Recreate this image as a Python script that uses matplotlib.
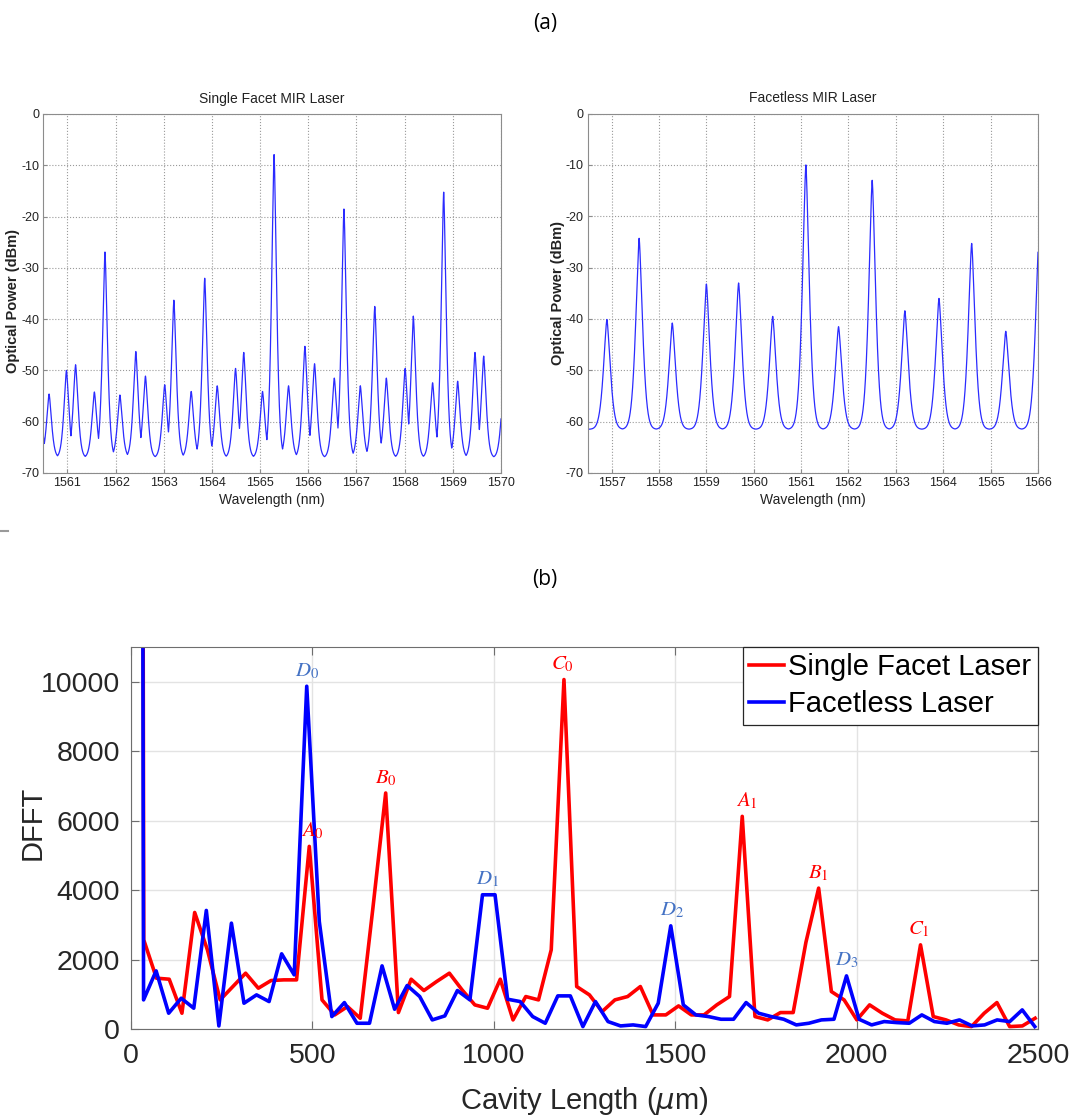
import os
import numpy as np
import matplotlib
matplotlib.use("Agg")
import matplotlib.pyplot as plt
from matplotlib import font_manager
from matplotlib.font_manager import FontProperties
from matplotlib.lines import Line2D

# ---------------- (a) optical spectra: peaks ----------------
single_peak_nm = [1560.42, 1560.62, 1560.98, 1561.17, 1561.56, 1561.78, 1562.09,
                  1562.42, 1562.62, 1563.02, 1563.21, 1563.57, 1563.85, 1564.11,
                  1564.49, 1564.66, 1565.05, 1565.29, 1565.59, 1565.93, 1566.13,
                  1566.54, 1566.74, 1567.08, 1567.38, 1567.62, 1568.01, 1568.18,
                  1568.58, 1568.81, 1569.10, 1569.46, 1569.64, 1570.05]
single_peak_dbm = [-54.0, -54.6, -50.0, -48.9, -54.2, -26.9, -54.8,
                   -46.3, -51.1, -52.8, -36.3, -54.1, -32.0, -53.0,
                   -49.6, -46.5, -54.1, -7.9, -53.0, -45.3, -48.7,
                   -51.5, -18.5, -53.0, -37.5, -51.5, -49.6, -39.4,
                   -52.4, -15.2, -52.1, -46.5, -47.2, -54.0]
single_floor_dbm = -67.0

facetless_peak_nm = [1556.90, 1557.58, 1558.28, 1559.00, 1559.68, 1560.40, 1561.10,
                     1561.79, 1562.50, 1563.19, 1563.91, 1564.60, 1565.32, 1566.02]
facetless_peak_dbm = [-40.1, -24.3, -40.8, -33.2, -33.0, -39.5, -10.0,
                      -41.5, -13.0, -38.4, -36.0, -25.3, -42.4, -24.0]
facetless_floor_dbm = -61.5

single_xticks = [1561, 1562, 1563, 1564, 1565, 1566, 1567, 1568, 1569, 1570]
facetless_xticks = [1557, 1558, 1559, 1560, 1561, 1562, 1563, 1564, 1565, 1566]
power_ticks = [0, -10, -20, -30, -40, -50, -60, -70]

# ---------------- (b) DFFT, one value per bin (bin 0 = off-scale DC term) ----------------
single_bin_um = 35.1
facetless_bin_um = 34.6
dfft_single = [2.0e5, 2573, 1469, 1440, 461, 3360, 2285, 845, 1229, 1613,
               1181, 1402, 1421, 1421, 5261, 845, 413, 653, 317, 3500,
               6797, 480, 1440, 1114, 1373, 1613, 1133, 701, 605, 1440,
               269, 941, 845, 2285, 10061, 1229, 989, 509, 845, 941,
               1229, 413, 413, 672, 413, 413, 701, 941, 6125, 365,
               269, 480, 480, 2500, 4061, 1085, 845, 269, 701, 461,
               269, 240, 2429, 365, 269, 125, 77, 461, 768, 77,
               96, 317]
dfft_facetless = [2.0e5, 845, 1680, 461, 893, 605, 3418, 96, 3053, 749,
                  989, 797, 2170, 1565, 9869, 3100, 365, 768, 173, 173,
                  1824, 576, 1258, 941, 269, 384, 1114, 845, 3869, 3869,
                  864, 797, 365, 173, 960, 960, 77, 797, 221, 96,
                  125, 77, 749, 2976, 701, 413, 365, 288, 288, 768,
                  461, 365, 288, 125, 173, 269, 288, 1536, 288, 125,
                  221, 192, 173, 413, 221, 173, 269, 96, 125, 269,
                  221, 557, 77]

# (label, series, bin, x shift in points)
peak_labels = [("D_0", "facetless", 14, 0), ("A_0", "single", 14, 2),
               ("B_0", "single", 20, 0), ("C_0", "single", 34, -1),
               ("D_1", "facetless", 28, 4), ("D_2", "facetless", 43, 1),
               ("A_1", "single", 48, 3), ("B_1", "single", 54, 0),
               ("D_3", "facetless", 57, 0), ("C_1", "single", 62, -1)]

plt.rcParams['axes.unicode_minus'] = False
names = {f.name for f in font_manager.fontManager.ttflist}
sans = 'Liberation Sans' if 'Liberation Sans' in names else 'DejaVu Sans'
plt.rcParams['font.family'] = sans


def font_file(prefix):
    for f in font_manager.fontManager.ttflist:
        if os.path.basename(f.fname).startswith(prefix):
            return f.fname
    return None


# the OSA screenshots use a squeezed font: take Liberation Sans Narrow if it is there
narrow_reg = font_file('LiberationSansNarrow-Regular')
narrow_bold = font_file('LiberationSansNarrow-Bold.')
if narrow_reg:
    small = lambda size: FontProperties(fname=narrow_reg, size=size)
    small_bold = lambda size: FontProperties(fname=narrow_bold or narrow_reg, size=size)
    tick_size, text_size, ylab_size = 11, 11, 12
else:
    small = lambda size: FontProperties(family=sans, size=size)
    small_bold = lambda size: FontProperties(family=sans, weight='bold', size=size)
    tick_size, text_size, ylab_size = 9, 10, 10.5

fig = plt.figure(figsize=(10.8, 11.15), dpi=100)


def spectrum(ax, lo, hi, peaks_nm, peaks_dbm, floor, width, xticks, title, ylab_x, ylab_y):
    wl = np.linspace(lo, hi, 6000)
    p = np.full_like(wl, floor)
    for c, h in zip(peaks_nm, peaks_dbm):
        p = np.maximum(p, floor + (h - floor) * np.exp(-(np.abs(wl - c) / width) ** 1.5))
    ax.plot(wl, p, color='#2b2bff', lw=0.9)
    ax.set_xlim(lo, hi)
    ax.set_ylim(-70, 0)
    ax.set_xticks(xticks)
    ax.set_yticks(power_ticks)
    ax.grid(True, ls=':', color='#9a9a9a', lw=0.8)
    for s in ax.spines.values():
        s.set_color('#8c8c8c')
    ax.tick_params(direction='in', length=3, color='#8c8c8c', pad=3, labelcolor='#222222')
    for t in ax.get_xticklabels() + ax.get_yticklabels():
        t.set_fontproperties(small(tick_size))
    ax.set_title(title, fontproperties=small(text_size), color='#222222', pad=8)
    ax.set_xlabel('Wavelength (nm)', fontproperties=small(text_size), color='#222222')
    ax.xaxis.set_label_coords(0.5, -0.055)
    ax.set_ylabel('Optical Power (dBm)', fontproperties=small_bold(ylab_size), color='#222222')
    ax.yaxis.set_label_coords(ylab_x, ylab_y)


ax1 = fig.add_axes([0.0401, 0.5758, 0.4238, 0.3220])
spectrum(ax1, 1560.5, 1570, single_peak_nm, single_peak_dbm, single_floor_dbm, 0.075,
         single_xticks, 'Single Facet MIR Laser', -0.05, 0.48)

ax2 = fig.add_axes([0.5444, 0.5758, 0.4167, 0.3224])
spectrum(ax2, 1556.5, 1566, facetless_peak_nm, facetless_peak_dbm, facetless_floor_dbm, 0.104,
         facetless_xticks, 'Facetless MIR Laser', -0.05, 0.50)

# ---------------- (b) ----------------
ax3 = fig.add_axes([0.1213, 0.0769, 0.8398, 0.3429])
x_single = np.arange(len(dfft_single)) * single_bin_um
x_facetless = np.arange(len(dfft_facetless)) * facetless_bin_um
ax3.plot(x_single, dfft_single, color='#ff0000', lw=2.6, label='Single Facet Laser')
ax3.plot(x_facetless, dfft_facetless, color='#0000ff', lw=2.6, label='Facetless Laser')
ax3.set_xlim(0, 2500)
ax3.set_ylim(0, 11000)
ax3.set_xticks([0, 500, 1000, 1500, 2000, 2500])
ax3.set_yticks([0, 2000, 4000, 6000, 8000, 10000])
ax3.grid(True, color='#e3e3e3', lw=1.0)
ax3.set_axisbelow(True)
for s in ax3.spines.values():
    s.set_color('#6e6e6e')
ax3.tick_params(direction='in', length=6, color='#6e6e6e', top=True, right=True,
                labelsize=20.5, labelcolor='#262626')
ax3.tick_params(axis='x', pad=10)
ax3.tick_params(axis='y', pad=8)
ax3.set_xlabel(r'Cavity Length ($\mu$m)', fontsize=21, color='#262626')
ax3.xaxis.set_label_coords(0.5, -0.145)
ax3.set_ylabel('DFFT', fontsize=21, color='#262626')
ax3.yaxis.set_label_coords(-0.093, 0.54)

series = {"single": (x_single, dfft_single, '#ff0000'),
          "facetless": (x_facetless, dfft_facetless, '#4472c4')}
for lab, key, k, dx in peak_labels:
    xs, ys, col = series[key]
    ax3.annotate('$' + lab + '$', xy=(xs[k], ys[k]), xytext=(dx, 11),
                 textcoords='offset points', ha='center', va='center',
                 fontsize=15, color=col, math_fontfamily='stix')

leg = ax3.legend(loc='upper right', fontsize=21, borderaxespad=0, fancybox=False,
                 handlelength=1.2, handletextpad=0.15, borderpad=0.22,
                 labelspacing=0.3, framealpha=1)
leg.get_frame().set_edgecolor('#262626')
leg.get_frame().set_linewidth(0.9)

fig.text(545 / 1080, 1 - 23 / 1115, '(a)', ha='center', va='center', fontsize=15,
         family='Open Sans')
fig.text(545 / 1080, 1 - 580 / 1115, '(b)', ha='center', va='center', fontsize=15,
         family='Open Sans')
fig.add_artist(Line2D([0, 8 / 1080], [1 - 531 / 1115] * 2, color='#9a9a9a', lw=1.5))

fig.savefig('out.png', dpi=100)
